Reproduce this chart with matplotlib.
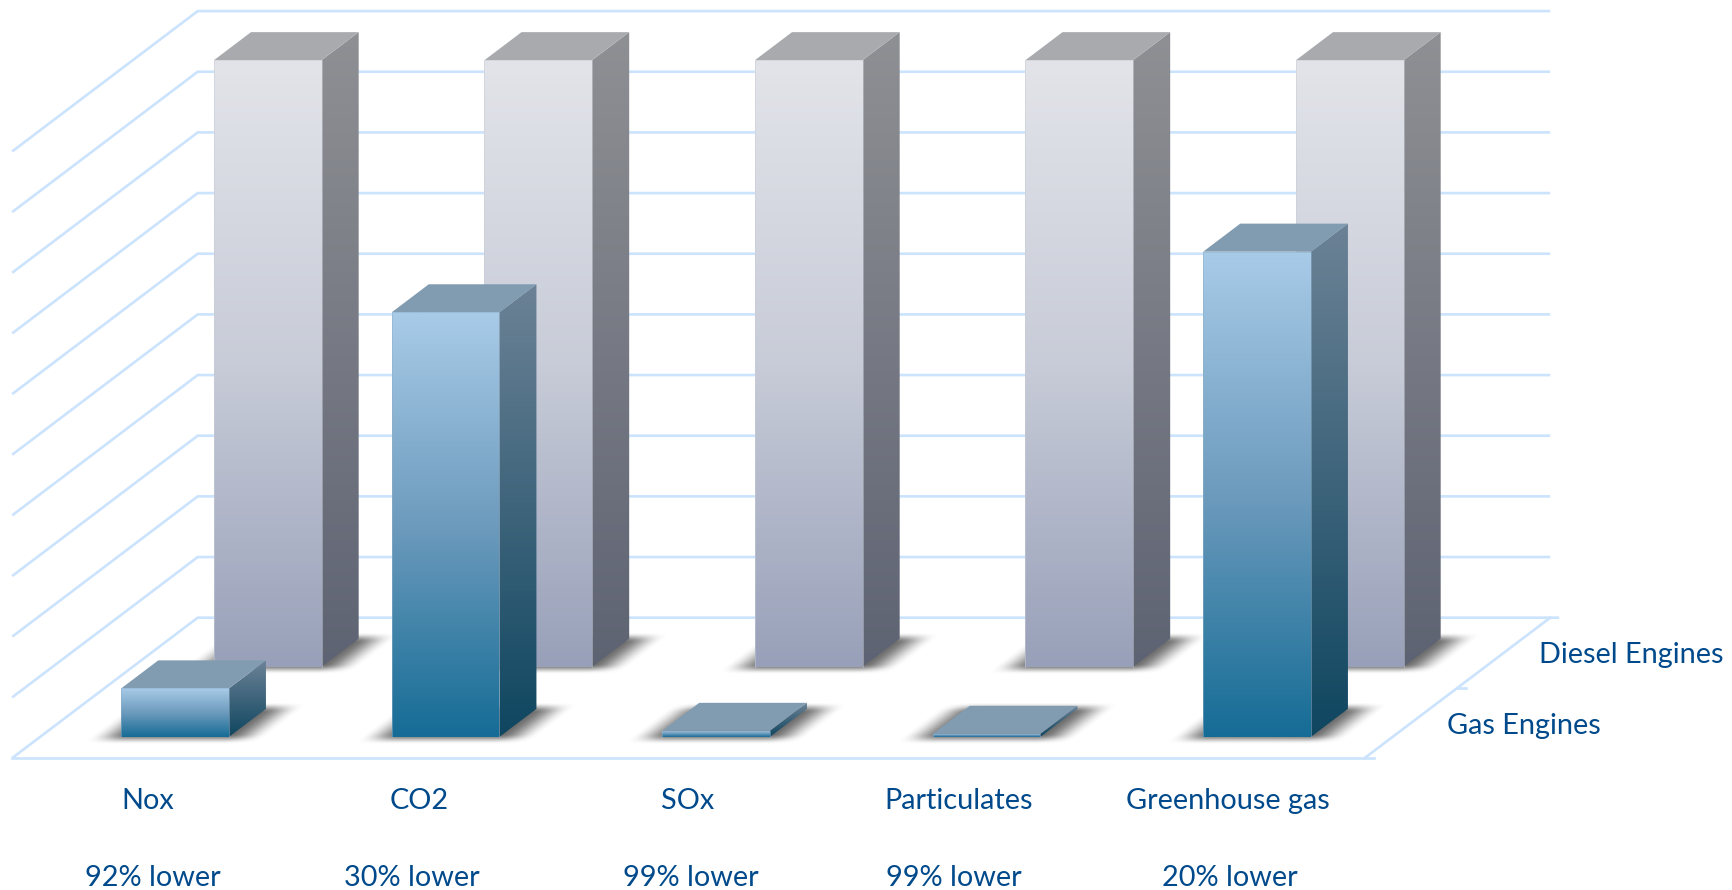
import numpy as np
import matplotlib
matplotlib.use("Agg")
import matplotlib.pyplot as plt
from matplotlib.patches import Polygon
from matplotlib.colors import LinearSegmentedColormap

plt.rcParams['font.family'] = ['Lato', 'DejaVu Sans']

categories = ["Nox", "CO2", "SOx", "Particulates", "Greenhouse gas"]
notes = ["92% lower", "30% lower", "99% lower", "99% lower", "20% lower"]
series_names = ["Gas Engines", "Diesel Engines"]
gas_values = [8, 70, 1, 0.5, 80]
diesel_values = [100, 100, 100, 100, 100]
value_ticks = list(range(0, 101, 10))

W, H = 1733, 890
fig = plt.figure(figsize=(W / 100, H / 100), dpi=100)
ax = fig.add_axes([0, 0, 1, 1])
ax.axis("off")

# Oblique 3-D projection onto the flat axes: category, depth, value -> axes data.
CAT_PX, VAL_PX = 270.5, 6.066
DEPTH_DX, DEPTH_DY = 92.75, 70.15
X0_PX, Y0_PX = 12.2, 758.0
xlim = (-X0_PX / CAT_PX, (W - X0_PX) / CAT_PX)
ylim = ((Y0_PX - H) / VAL_PX, Y0_PX / VAL_PX)


def proj(c, d, v):
    return c + d * DEPTH_DX / CAT_PX, v + d * DEPTH_DY / VAL_PX


def px(dx=0, dy=0):
    return dx / CAT_PX, dy / VAL_PX


GRID = "#cbe3fc"
for v in value_ticks:
    pts = [proj(0, 0, v), proj(0, 2, v), proj(5, 2, v)]
    if v == 0:
        a = proj(5, 2, 0)
        pts[-1] = (a[0] + px(9)[0], a[1])
    ax.plot(*zip(*pts), color=GRID, lw=1.9, solid_capstyle="butt", solid_joinstyle="miter", zorder=1)
# floor: front edge, right edge, depth tick marks
f = proj(5, 0, 0)
ax.plot([0, f[0] + px(9)[0]], [0, 0], color=GRID, lw=1.9, zorder=1)
ax.plot(*zip(proj(5, 0, 0), proj(5, 2, 0)), color=GRID, lw=1.9, zorder=1)
m = proj(5, 1, 0)
ax.plot([m[0], m[0] + px(9)[0]], [m[1], m[1]], color=GRID, lw=1.9, zorder=1)


def shade(poly, stops, z):
    """Fill polygon with a vertical gradient, stops listed from top to bottom."""
    poly = np.array(poly)
    cmap = LinearSegmentedColormap.from_list("g", stops)
    grad = np.linspace(0, 1, 256)[:, None]
    im = ax.imshow(grad, cmap=cmap, aspect="auto", origin="upper", interpolation="bilinear",
                   extent=(poly[:, 0].min(), poly[:, 0].max(), poly[:, 1].min(), poly[:, 1].max()),
                   zorder=z)
    patch = Polygon(poly, transform=ax.transData, facecolor="none", edgecolor="none")
    ax.add_patch(patch)
    im.set_clip_path(patch)


def smooth(t):
    t = np.clip(t, 0, 1)
    return t * t * (3 - 2 * t)


def shadow(c0, c1, d0, d1, z):
    """Soft contact shadow on the floor plane, smooth edges in floor coordinates."""
    xl, yb = proj(c0, d0, 0)
    xr, yt = proj(c1, d1, 0)
    x = np.linspace(xl - px(60)[0], xr + px(60)[0], 340)
    y = np.linspace(yb - px(0, 16)[1], yt + px(0, 14)[1], 100)
    X, Y = np.meshgrid(x, y)
    d = Y * VAL_PX / DEPTH_DY
    u = (X - d * DEPTH_DX / CAT_PX) * CAT_PX
    soft_u, soft_v = 40.0, 10.0
    v_px = d * DEPTH_DY
    a = (smooth((u - (c0 * CAT_PX - 32)) / soft_u) * smooth(((c1 * CAT_PX + 38) - u) / soft_u)
         * smooth((v_px - (d0 * DEPTH_DY - 7.5)) / soft_v) * smooth(((d1 * DEPTH_DY + 6) - v_px) / soft_v))
    rgba = np.zeros(a.shape + (4,))
    rgba[..., :3] = 0.28
    rgba[..., 3] = a * 0.8
    ax.imshow(rgba, origin="lower", aspect="auto", interpolation="bilinear",
              extent=(x[0], x[-1], y[0], y[-1]), zorder=z)


def bar3d(c0, c1, d0, d1, v, cols, z):
    shadow(c0, c1, d0, d1, z)
    fl, fr = proj(c0, d0, 0), proj(c1, d0, 0)
    tl, tr = proj(c0, d0, v), proj(c1, d0, v)
    br0, br1 = proj(c1, d1, 0), proj(c1, d1, v)
    bl1 = proj(c0, d1, v)
    shade([tr, br1, br0, fr], cols["side"], z + 0.1)
    ax.add_patch(Polygon([tl, tr, br1, bl1], closed=True, facecolor=cols["top"],
                         edgecolor="none", zorder=z + 0.2))
    shade([tl, tr, fr, fl], cols["front"], z + 0.3)
    ax.plot(*zip(fl, tl, tr, fr), color=cols["edge"], lw=0.6, alpha=0.6, zorder=z + 0.4)


diesel_cols = dict(front=["#e2e4e9", "#c8ccd8", "#98a0b9"], side=["#8f9094", "#5e6373"],
                   top="#a9aaae", edge="#c8ccd6")
gas_cols = dict(front=["#a8cbe8", "#6d9bbd", "#156c96"], side=["#6c8296", "#0f4660"],
                top="#819cb1", edge="#8fb0c8")

BAR_W = 0.398
for i, v in enumerate(diesel_values):
    bar3d(i + 0.3, i + 0.3 + BAR_W, 1.3, 1.7, v, diesel_cols, 3)
for i, v in enumerate(gas_values):
    bar3d(i + 0.3, i + 0.3 + BAR_W, 0.3, 0.7, v, gas_cols, 5)

TEXT = "#004a8c"
FS = 20.8
label_shift = [0, 1, -1, 0, -2]
note_shift = [5, -6, 2, -5, 0]
for i, (cat, note) in enumerate(zip(categories, notes)):
    ax.text(i + 0.5 + px(label_shift[i])[0], px(0, -43)[1], cat, ha="center", va="center",
            color=TEXT, fontsize=FS, zorder=8)
    ax.text(i + 0.5 + px(note_shift[i])[0], px(0, -120)[1], note, ha="center", va="center",
            color=TEXT, fontsize=FS, zorder=8)

for name, d, dx, dy in [(series_names[0], 0, 82, 32), (series_names[1], 1, 82, 33)]:
    p = proj(5, d, 0)
    ax.text(p[0] + px(dx)[0], p[1] + px(0, dy)[1], name, ha="left", va="center",
            color=TEXT, fontsize=FS, zorder=8)

ax.set_xlim(*xlim)
ax.set_ylim(*ylim)
fig.savefig("out.png", dpi=100, facecolor="white")
